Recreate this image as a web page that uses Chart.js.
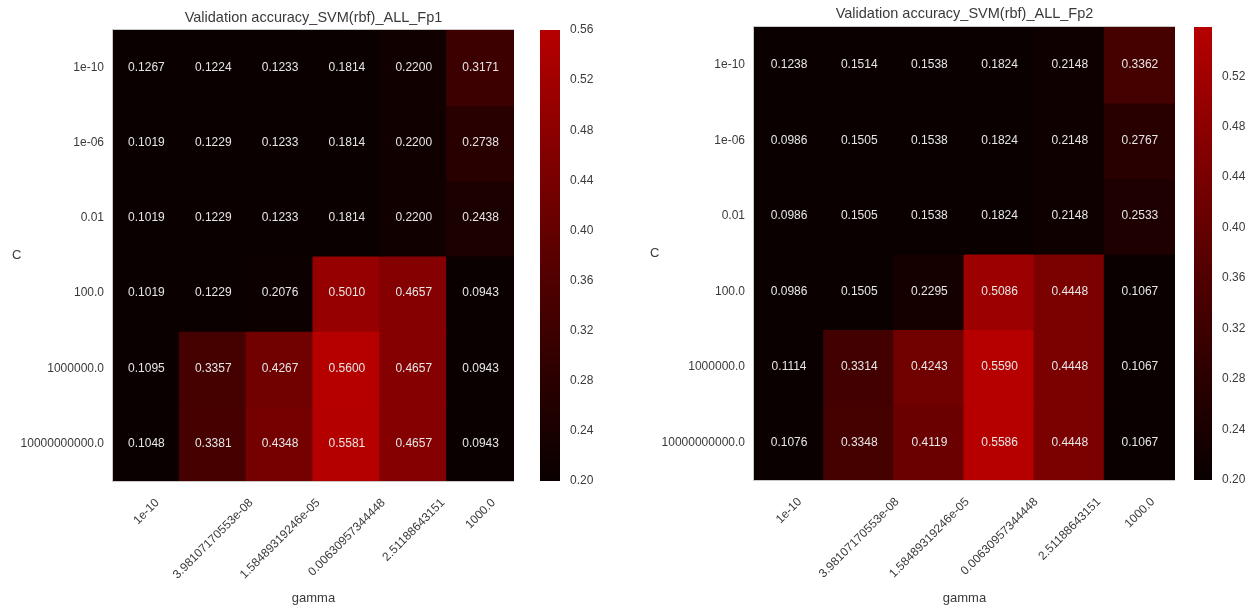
<!DOCTYPE html>
<html lang="en">

<head>
    <meta charset="UTF-8">
    <title>SVM(rbf) validation accuracy heatmap</title>
    <style>
        body { margin: 0; background: #fff; }
        canvas { position: absolute; top: 0; }
    </style>
</head>

<body>
    <canvas id="heatFp1" width="514" height="608" style="left:0px"></canvas>
    <canvas id="barFp1" width="70" height="608" style="left:530px"></canvas>
    <canvas id="heatFp2" width="535" height="608" style="left:640px"></canvas>
    <canvas id="barFp2" width="68" height="608" style="left:1184px"></canvas>

    <script src="https://cdn.jsdelivr.net/npm/chart.js"></script>
    <script>
        // 格點搜尋的參數
        const gammaLabels = ['1e-10', '3.98107170553e-08', '1.58489319246e-05', '0.00630957344448', '2.51188643151', '1000.0'];
        const cLabels = ['1e-10', '1e-06', '0.01', '100.0', '1000000.0', '10000000000.0'];

        // 每一列是一個 C，每一欄是一個 gamma
        const accFp1 = [
            [0.1267, 0.1224, 0.1233, 0.1814, 0.2200, 0.3171],
            [0.1019, 0.1229, 0.1233, 0.1814, 0.2200, 0.2738],
            [0.1019, 0.1229, 0.1233, 0.1814, 0.2200, 0.2438],
            [0.1019, 0.1229, 0.2076, 0.5010, 0.4657, 0.0943],
            [0.1095, 0.3357, 0.4267, 0.5600, 0.4657, 0.0943],
            [0.1048, 0.3381, 0.4348, 0.5581, 0.4657, 0.0943]
        ];
        const accFp2 = [
            [0.1238, 0.1514, 0.1538, 0.1824, 0.2148, 0.3362],
            [0.0986, 0.1505, 0.1538, 0.1824, 0.2148, 0.2767],
            [0.0986, 0.1505, 0.1538, 0.1824, 0.2148, 0.2533],
            [0.0986, 0.1505, 0.2295, 0.5086, 0.4448, 0.1067],
            [0.1114, 0.3314, 0.4243, 0.5590, 0.4448, 0.1067],
            [0.1076, 0.3348, 0.4119, 0.5586, 0.4448, 0.1067]
        ];

        // 色階範圍與刻度
        const rangeFp1 = [0.20, 0.56];
        const rangeFp2 = [0.20, 0.559];
        const ticksFp1 = [0.20, 0.24, 0.28, 0.32, 0.36, 0.40, 0.44, 0.48, 0.52, 0.56];
        const ticksFp2 = [0.20, 0.24, 0.28, 0.32, 0.36, 0.40, 0.44, 0.48, 0.52];

        const FONT = "'Liberation Sans', Arial, sans-serif";
        const TEXT = '#3a3a3a';

        // 黑 -> 紅 的色階
        function cmap(v, range) {
            let f = (v - range[0]) / (range[1] - range[0]);
            f = Math.max(0, Math.min(1, f));
            const r = Math.round(10 + 172 * Math.pow(f, 1.1));
            return 'rgb(' + r + ',0,0)';
        }

        // 格子裡的數字、標題、C、斜的 gamma 標籤、外框
        const cellText = {
            id: 'cellText',
            afterDatasetsDraw(chart, args, opts) {
                const ctx = chart.ctx;
                const ca = chart.chartArea;
                ctx.save();
                ctx.font = '12px ' + FONT;
                ctx.fillStyle = '#e6e6e6';
                ctx.textAlign = 'center';
                ctx.textBaseline = 'middle';
                chart.data.datasets.forEach(function (ds, i) {
                    chart.getDatasetMeta(i).data.forEach(function (el, j) {
                        const p = el.getCenterPoint();
                        ctx.fillText(ds.acc[j].toFixed(4), p.x, p.y);
                    });
                });
                ctx.strokeStyle = '#c8c8c8';
                ctx.lineWidth = 1;
                ctx.strokeRect(ca.left - 0.5, ca.top - 0.5, ca.width + 1, ca.height + 1);

                // 標題置中在圖上方
                ctx.fillStyle = TEXT;
                ctx.font = '14.5px ' + FONT;
                ctx.fillText(opts.title, (ca.left + ca.right) / 2, opts.titleY);

                ctx.font = '13px ' + FONT;
                ctx.textAlign = 'left';
                ctx.fillText('C', opts.cx, (ca.top + ca.bottom) / 2);

                // x 軸標籤轉 45 度，外框置中在格子中間
                const xs = chart.scales.x;
                ctx.font = '12px ' + FONT;
                ctx.textAlign = 'right';
                chart.data.labels.forEach(function (lab, i) {
                    const w = ctx.measureText(lab).width;
                    const x = xs.getPixelForTick(i) + w * Math.SQRT1_2 / 2;
                    const y = ca.bottom + 20;
                    ctx.save();
                    ctx.translate(x, y);
                    ctx.rotate(-Math.PI / 4);
                    ctx.fillText(lab, 0, 0);
                    ctx.restore();
                });
                ctx.restore();
            }
        };

        function makeHeat(id, title, acc, range, top, bottom, yWidth, cx, titleY) {
            const datasets = acc.map(function (row, i) {
                return {
                    label: cLabels[i],
                    data: row.map(function () { return 1; }), // 每格高度一格
                    acc: row,
                    backgroundColor: row.map(function (v) { return cmap(v, range); }),
                    borderWidth: 0,
                    inflateAmount: 1,
                    barPercentage: 1,
                    categoryPercentage: 1
                };
            });
            return new Chart(document.getElementById(id), {
                type: 'bar',
                data: { labels: gammaLabels, datasets: datasets },
                options: {
                    responsive: false,
                    animation: false,
                    layout: { padding: { top: top, left: 0, right: 0, bottom: 0 } },
                    plugins: {
                        legend: { display: false },
                        tooltip: { enabled: false },
                        cellText: { cx: cx, title: title, titleY: titleY }
                    },
                    scales: {
                        x: {
                            stacked: true,
                            grid: { display: false, drawTicks: false },
                            border: { display: false },
                            ticks: { display: false },
                            title: {
                                display: true, text: 'gamma', color: TEXT,
                                font: { family: FONT, size: 13 },
                                padding: { top: 4, bottom: 2 }
                            },
                            afterFit: function (s) { s.height = 608 - bottom; }
                        },
                        y: {
                            stacked: true,
                            reverse: true,
                            min: 0,
                            max: 6,
                            grid: { display: false, drawTicks: false },
                            border: { display: false },
                            afterBuildTicks: function (s) {
                                s.ticks = cLabels.map(function (c, i) { return { value: i + 0.5 }; });
                            },
                            ticks: {
                                padding: 9, color: TEXT, font: { family: FONT, size: 12 },
                                callback: function (v) { return cLabels[Math.floor(v)]; }
                            },
                            afterFit: function (s) { s.width = yWidth; }
                        }
                    }
                },
                plugins: [cellText]
            });
        }

        // 色階條：一根浮動長條，底色用漸層
        function makeBar(id, range, ticks, padTop, padBottom) {
            return new Chart(document.getElementById(id), {
                type: 'bar',
                data: {
                    labels: [''],
                    datasets: [{
                        data: [range],
                        barPercentage: 1,
                        categoryPercentage: 1,
                        borderWidth: 0,
                        backgroundColor: function (context) {
                            const ca = context.chart.chartArea;
                            if (!ca) return null;
                            const g = context.chart.ctx.createLinearGradient(0, ca.bottom, 0, ca.top);
                            for (let k = 0; k <= 20; k++) {
                                const v = range[0] + (range[1] - range[0]) * k / 20;
                                g.addColorStop(k / 20, cmap(v, range));
                            }
                            return g;
                        }
                    }]
                },
                options: {
                    responsive: false,
                    animation: false,
                    layout: { padding: { left: 10, right: 0, top: padTop, bottom: padBottom } },
                    plugins: { legend: { display: false }, tooltip: { enabled: false } },
                    scales: {
                        x: { display: false },
                        y: {
                            position: 'right',
                            min: range[0],
                            max: range[1],
                            grid: { display: false, drawTicks: false },
                            border: { display: false },
                            afterBuildTicks: function (s) {
                                s.ticks = ticks.map(function (t) { return { value: t }; });
                            },
                            ticks: {
                                padding: 10, color: TEXT, font: { family: FONT, size: 12 },
                                callback: function (v) { return v.toFixed(2); }
                            },
                            afterFit: function (s) { s.width = 40; }
                        }
                    }
                }
            });
        }

        makeHeat('heatFp1', 'Validation accuracy_SVM(rbf)_ALL_Fp1', accFp1, rangeFp1, 30, 481, 113, 12, 18);
        makeBar('barFp1', rangeFp1, ticksFp1, 30, 127);
        makeHeat('heatFp2', 'Validation accuracy_SVM(rbf)_ALL_Fp2', accFp2, rangeFp2, 27, 480, 114, 10, 14);
        makeBar('barFp2', rangeFp2, ticksFp2, 27, 128);
    </script>
</body>

</html>
